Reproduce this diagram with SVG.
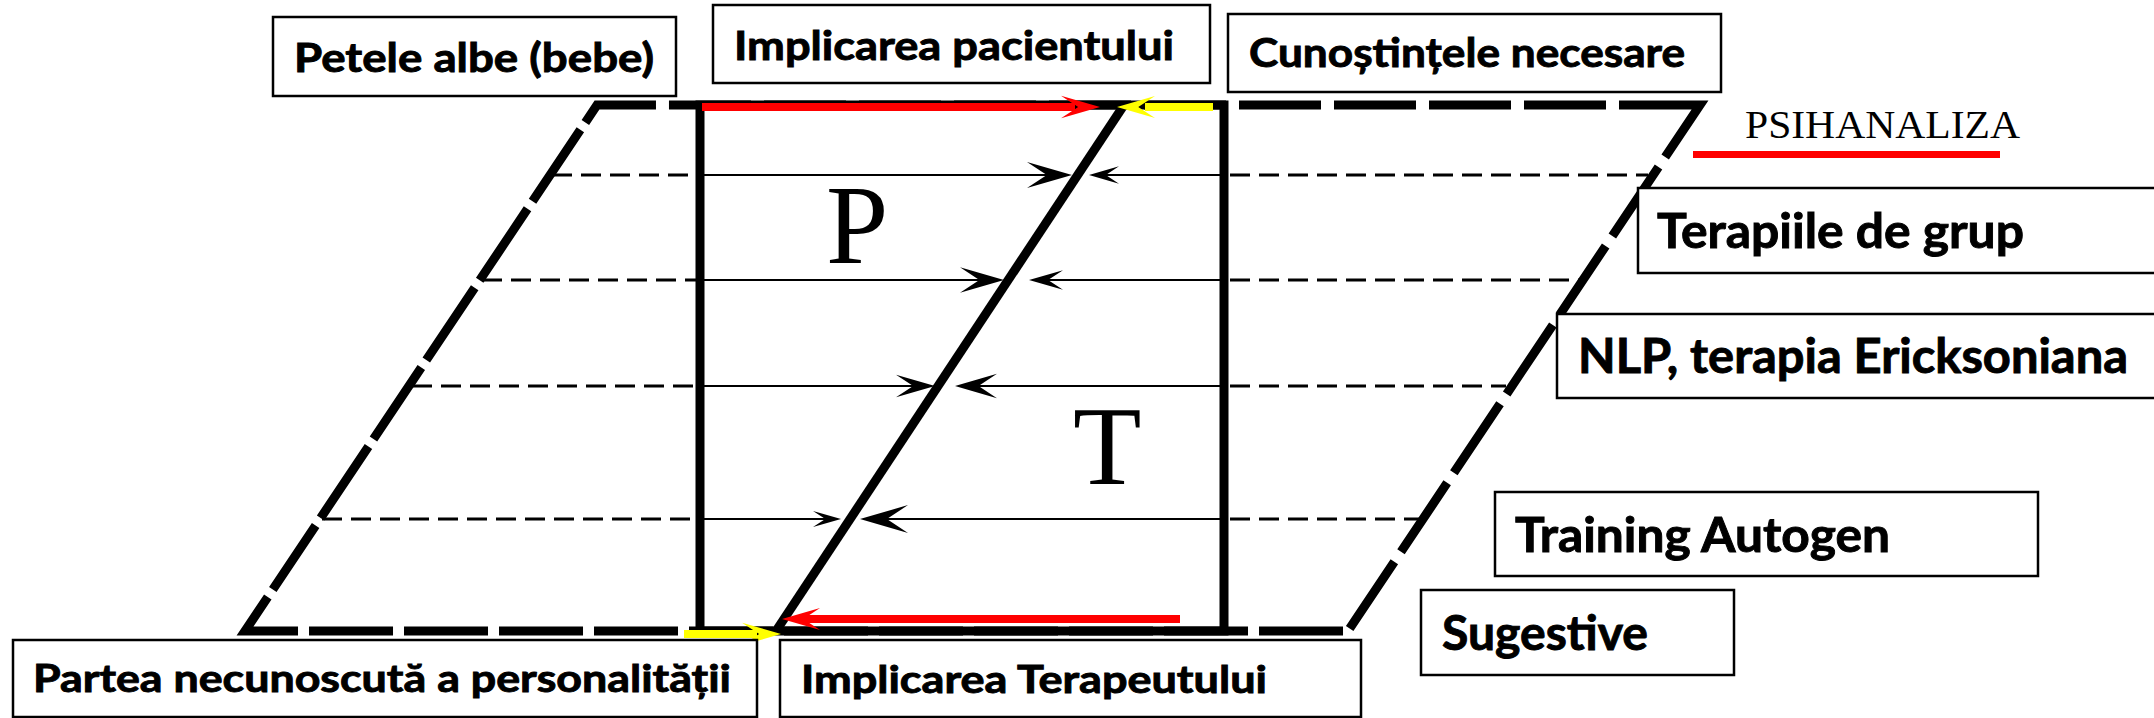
<svg xmlns="http://www.w3.org/2000/svg" xmlns:xlink="http://www.w3.org/1999/xlink" width="2154" height="718" viewBox="0 0 2154 718">
<style>
.box rect{fill:#fff;stroke:#000;stroke-width:2.5}
.lbl{font-family:Lato,"Noto Sans","DejaVu Sans",sans-serif;font-weight:bold;fill:#000;stroke:#000;stroke-width:0.9}
.serif{font-family:"Liberation Serif","Times New Roman",serif;fill:#000}
.dash{stroke:#000;stroke-width:3;stroke-dasharray:20 9;fill:none}
.thin{stroke:#000;stroke-width:2;fill:none}
.thick{stroke:#000;stroke-width:9;fill:none}
.blk{fill:#000}
</style>
<defs>
<path id="ah" d="M0,0 L-1,-0.29 L-0.56,0 L-1,0.29 Z"/>
</defs>
<rect width="2154" height="718" fill="#fff"/>
<g id="connectors">
<path id="outline" d="M669,105 L1700,105 L1348,631 L245,631 L597,105 Z" fill="none" stroke="#000" stroke-width="9" stroke-linejoin="miter" stroke-dasharray="82 13 82 13 82 13 82 13 82 13 82 13 82 13 82 13 82 13 82 13 143.6 12 83 12 83 12 83 12 83 12 83 12 80.3 8 84 11 84 11 84 11 84 11 84 11 84 11 84 11 84 11 84 11 84 11 84 11 94 9 77 9 86 9 86 9 87 9 86 9 86 9 79.9 13"/>
<line class="dash" x1="552" y1="175" x2="700" y2="175"/>
<line class="dash" x1="1230" y1="175" x2="1648" y2="175"/>
<line class="dash" x1="482" y1="280" x2="700" y2="280"/>
<line class="dash" x1="1230" y1="280" x2="1580" y2="280"/>
<line class="dash" x1="412" y1="386" x2="700" y2="386"/>
<line class="dash" x1="1230" y1="386" x2="1506" y2="386"/>
<line class="dash" x1="322" y1="519" x2="700" y2="519"/>
<line class="dash" x1="1230" y1="519" x2="1420" y2="519"/>
<line class="thin" x1="700" y1="175" x2="1050" y2="175"/>
<line class="thin" x1="1224" y1="175" x2="1104" y2="175"/>
<line class="thin" x1="700" y1="280" x2="982" y2="280"/>
<line class="thin" x1="1224" y1="280" x2="1046" y2="280"/>
<line class="thin" x1="700" y1="386" x2="916" y2="386"/>
<line class="thin" x1="1224" y1="386" x2="975" y2="386"/>
<line class="thin" x1="700" y1="519" x2="827" y2="519"/>
<line class="thin" x1="1224" y1="519" x2="884" y2="519"/>
<use xlink:href="#ah" class="blk" transform="translate(1072,175) scale(45)"/>
<use xlink:href="#ah" class="blk" transform="translate(1089,175) scale(-30,30)"/>
<use xlink:href="#ah" class="blk" transform="translate(1004,280) scale(44)"/>
<use xlink:href="#ah" class="blk" transform="translate(1029,280) scale(-34,34)"/>
<use xlink:href="#ah" class="blk" transform="translate(935,386) scale(39)"/>
<use xlink:href="#ah" class="blk" transform="translate(955,386) scale(-42,42)"/>
<use xlink:href="#ah" class="blk" transform="translate(841,519) scale(28)"/>
<use xlink:href="#ah" class="blk" transform="translate(860,519) scale(-48,48)"/>
<rect class="thick" x="700" y="105" width="524" height="526"/>
<line class="thick" x1="1124" y1="105" x2="776" y2="631"/>
<line x1="702" y1="107" x2="1075" y2="107" stroke="#ff0000" stroke-width="8"/>
<use xlink:href="#ah" fill="#ff0000" transform="translate(1100,107) scale(39)"/>
<line x1="1213" y1="107" x2="1145" y2="107" stroke="#ffff00" stroke-width="8"/>
<use xlink:href="#ah" fill="#ffff00" transform="translate(1117,107) scale(-38,38)"/>
<line x1="1180" y1="619" x2="800" y2="619" stroke="#ff0000" stroke-width="8"/>
<use xlink:href="#ah" fill="#ff0000" transform="translate(782,619) scale(-38,38)"/>
<line x1="684" y1="634" x2="757" y2="634" stroke="#ffff00" stroke-width="8"/>
<use xlink:href="#ah" fill="#ffff00" transform="translate(781,634) scale(39)"/>
</g>
<g id="label-P"><text class="serif" x="826" y="263" font-size="112">P</text></g>
<g id="label-T"><text class="serif" x="1073" y="484" font-size="112">T</text></g>
<g id="psihanaliza">
<text class="serif" x="1745" y="138" font-size="40" textLength="275" lengthAdjust="spacingAndGlyphs">PSIHANALIZA</text>
<rect x="1693" y="151" width="307" height="7" fill="#ff0000"/>
</g>
<g id="box-petele" class="box"><rect x="273" y="17" width="403" height="79"/><text class="lbl" x="294" y="72" font-size="40" textLength="360" lengthAdjust="spacingAndGlyphs">Petele albe (bebe)</text></g>
<g id="box-implicarea-pacientului" class="box"><rect x="713" y="5" width="497" height="78"/><text class="lbl" x="734" y="60" font-size="40" textLength="440" lengthAdjust="spacingAndGlyphs">Implicarea pacientului</text></g>
<g id="box-cunostintele" class="box"><rect x="1228" y="14" width="493" height="78"/><text class="lbl" x="1249" y="67" font-size="40" textLength="436" lengthAdjust="spacingAndGlyphs">Cunoștințele necesare</text></g>
<g id="box-terapiile" class="box"><rect x="1638" y="188" width="530" height="85"/><text class="lbl" x="1657" y="248" font-size="48" textLength="367" lengthAdjust="spacingAndGlyphs">Terapiile de grup</text></g>
<g id="box-nlp" class="box"><rect x="1557" y="314" width="610" height="84"/><text class="lbl" x="1578" y="373" font-size="47" textLength="550" lengthAdjust="spacingAndGlyphs">NLP, terapia Ericksoniana</text></g>
<g id="box-training" class="box"><rect x="1495" y="492" width="543" height="84"/><text class="lbl" x="1515" y="552" font-size="47" textLength="375" lengthAdjust="spacingAndGlyphs">Training Autogen</text></g>
<g id="box-sugestive" class="box"><rect x="1421" y="590" width="313" height="85"/><text class="lbl" x="1442" y="650" font-size="47" textLength="206" lengthAdjust="spacingAndGlyphs">Sugestive</text></g>
<g id="box-partea" class="box"><rect x="13" y="640" width="744" height="77"/><text class="lbl" x="33" y="692" font-size="38" textLength="698" lengthAdjust="spacingAndGlyphs">Partea necunoscută a personalității</text></g>
<g id="box-implicarea-terapeutului" class="box"><rect x="780" y="640" width="581" height="77"/><text class="lbl" x="801" y="693" font-size="38" textLength="466" lengthAdjust="spacingAndGlyphs">Implicarea Terapeutului</text></g>
</svg>
